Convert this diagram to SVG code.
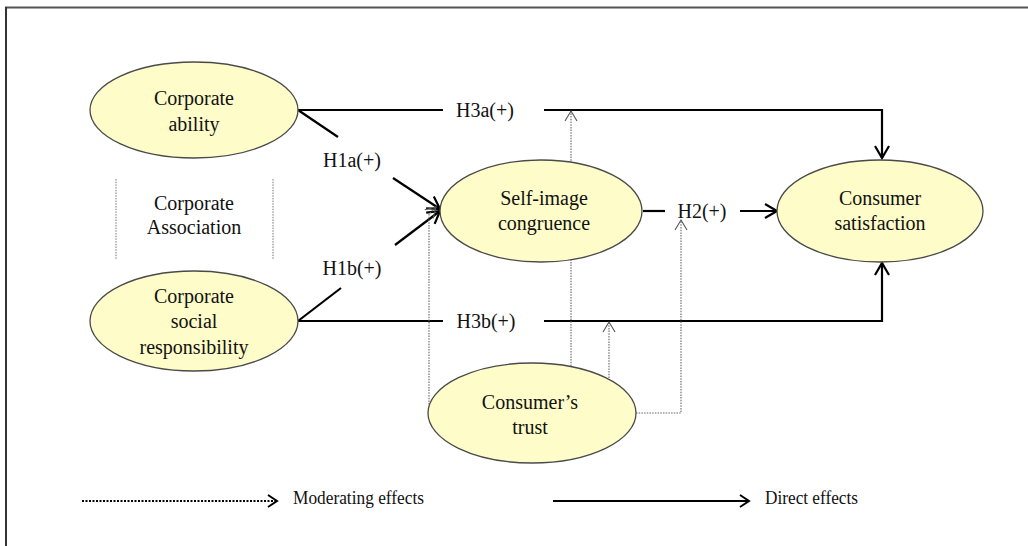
<svg xmlns="http://www.w3.org/2000/svg" width="1028" height="546" viewBox="0 0 1028 546">
<style>
.node ellipse{fill:#fefcc8;stroke:#4a4a4a;stroke-width:1.3}
text{font-family:"Liberation Serif","Times New Roman",serif;font-size:20px;fill:#111;text-anchor:middle}
.lbl{font-size:20px}
.leg{font-size:18px;text-anchor:start}
.direct{fill:none;stroke:#000;stroke-width:2.2}
.mod{fill:none;stroke:#666;stroke-width:1.1;stroke-dasharray:1.5 1.2}
.guide{fill:none;stroke:#777;stroke-width:1;stroke-dasharray:1.5 1.2}
</style>
<defs>
<marker id="ad" markerUnits="userSpaceOnUse" markerWidth="16" markerHeight="18" refX="13" refY="8" orient="auto" viewBox="0 0 16 16">
<path d="M1,1 L13,8 L1,15" fill="none" stroke="#000" stroke-width="2.2"/>
</marker>
<marker id="am" markerUnits="userSpaceOnUse" markerWidth="14" markerHeight="14" refX="11" refY="7" orient="auto" viewBox="0 0 14 14">
<path d="M1,1 L11,7 L1,13" fill="none" stroke="#555" stroke-width="1.1"/>
</marker>
<marker id="al" markerUnits="userSpaceOnUse" markerWidth="12" markerHeight="14" refX="10" refY="7" orient="auto" viewBox="0 0 12 14">
<path d="M1,1 L10,7 L1,13" fill="none" stroke="#000" stroke-width="2"/>
</marker>
</defs>
<rect width="1028" height="546" fill="#fff"/>
<g id="frame">
<line x1="5" y1="7.5" x2="1028" y2="7.5" stroke="#555" stroke-width="2"/>
<line x1="6" y1="7" x2="6" y2="546" stroke="#333" stroke-width="2"/>
</g>
<g id="connectors">
<path class="direct" d="M298,110 L443,110"/>
<path class="direct" d="M544,110 L882,110 L882,158" marker-end="url(#ad)"/>
<path class="direct" d="M298,110 L338,137"/>
<path class="direct" d="M393,178 L440,209" marker-end="url(#ad)"/>
<path class="direct" d="M298,321 L341,288"/>
<path class="direct" d="M395,245 L440,211" marker-end="url(#ad)"/>
<path class="direct" d="M298,321 L443,321"/>
<path class="direct" d="M544,321 L882,321 L882,263" marker-end="url(#ad)"/>
<path class="direct" d="M643,211 L665,211"/>
<path class="direct" d="M740,211 L777,211" marker-end="url(#ad)"/>
<path class="mod" d="M429,410 L429,214 L436,207" marker-end="url(#am)"/>
<path class="mod" d="M571,366 L571,111" marker-end="url(#am)"/>
<path class="mod" d="M609,378 L609,322" marker-end="url(#am)"/>
<path class="mod" d="M636,413 L681,413 L681,220" marker-end="url(#am)"/>
</g>
<g id="corporate-ability" class="node">
<ellipse cx="194" cy="110" rx="104" ry="48"/>
<text x="194" y="105">Corporate</text>
<text x="194" y="131">ability</text>
</g>
<g id="corporate-association">
<line class="guide" x1="116" y1="179" x2="116" y2="260"/>
<line class="guide" x1="273" y1="179" x2="273" y2="260"/>
<text x="194" y="210">Corporate</text>
<text x="194" y="234">Association</text>
</g>
<g id="csr" class="node">
<ellipse cx="194" cy="321" rx="104" ry="50"/>
<text x="194" y="303">Corporate</text>
<text x="194" y="328">social</text>
<text x="194" y="354">responsibility</text>
</g>
<g id="self-image" class="node">
<ellipse cx="541" cy="211" rx="101" ry="51"/>
<text x="544" y="205">Self-image</text>
<text x="544" y="230">congruence</text>
</g>
<g id="satisfaction" class="node">
<ellipse cx="880" cy="211" rx="103" ry="51"/>
<text x="880" y="205">Consumer</text>
<text x="880" y="230">satisfaction</text>
</g>
<g id="trust" class="node">
<ellipse cx="532" cy="413" rx="104" ry="50"/>
<text x="530" y="409">Consumer’s</text>
<text x="530" y="434">trust</text>
</g>
<g id="labels">
<text class="lbl" x="485" y="117">H3a(+)</text>
<text class="lbl" x="352" y="167">H1a(+)</text>
<text class="lbl" x="352" y="275">H1b(+)</text>
<text class="lbl" x="486" y="328">H3b(+)</text>
<text class="lbl" x="702" y="218">H2(+)</text>
</g>
<g id="legend">
<line x1="82" y1="501" x2="277" y2="501" stroke="#000" stroke-width="2" stroke-dasharray="2 1.5" marker-end="url(#al)"/>
<text class="leg" x="293" y="504" textLength="131" lengthAdjust="spacingAndGlyphs">Moderating  effects</text>
<line x1="553" y1="501" x2="749" y2="501" stroke="#000" stroke-width="2" marker-end="url(#al)"/>
<text class="leg" x="765" y="504" textLength="93" lengthAdjust="spacingAndGlyphs">Direct  effects</text>
</g>
</svg>
